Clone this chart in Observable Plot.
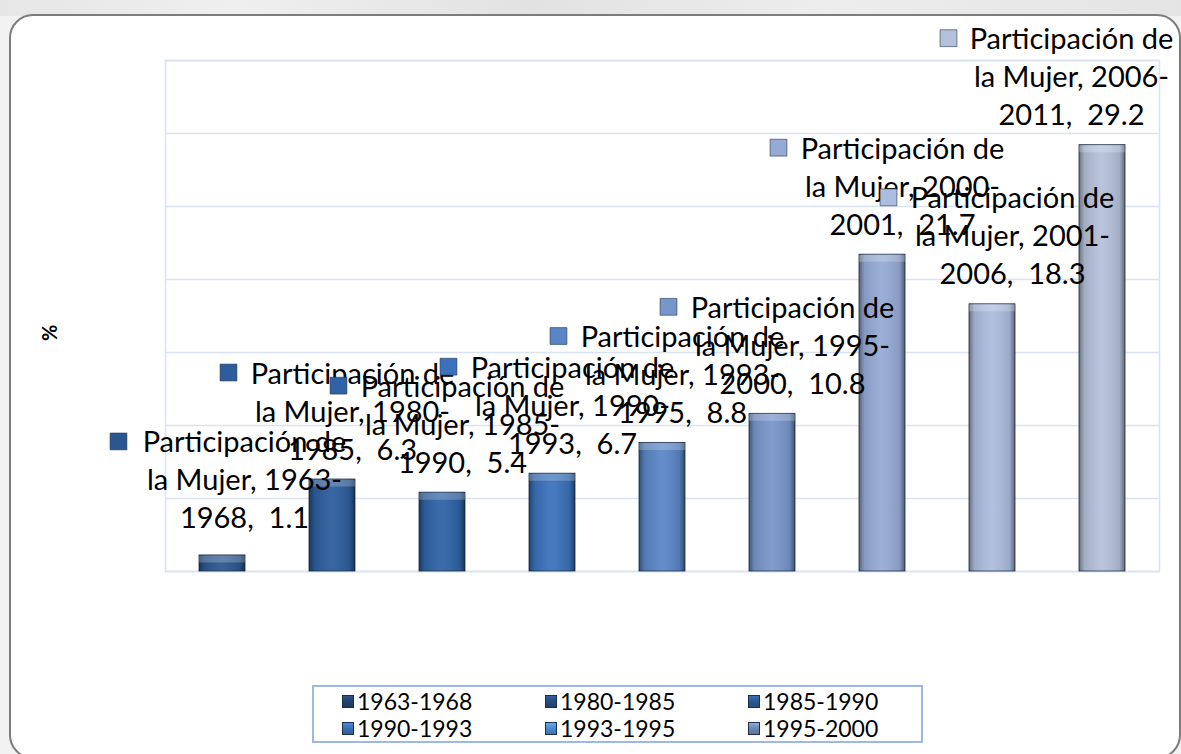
<!DOCTYPE html>
<html>
<head>
<meta charset="utf-8">
<script src="https://cdn.jsdelivr.net/npm/d3@7"></script>
<script src="https://cdn.jsdelivr.net/npm/@observablehq/plot@0.6"></script>
<style>
  html, body { margin: 0; padding: 0; }
  body { width: 1181px; height: 754px; overflow: hidden; position: relative; background: #f2f2f2; font-family: Lato, "Open Sans", sans-serif; }
  #topband { position: absolute; left: 0; top: 0; width: 1181px; height: 16px;
    background: linear-gradient(90deg, #e6e6e6 0%, #efefef 20%, #e2e2e2 45%, #ededed 70%, #e4e4e4 100%); }
  #frame { position: absolute; left: 9px; top: 14px; width: 1172px; height: 745px; box-sizing: border-box;
    border: 2px solid #7c7c7c; border-radius: 24px; background: #ffffff; }
  #chart { position: absolute; left: 0; top: 0; }
  #legend { position: absolute; left: 312px; top: 685px; width: 611px; height: 58px; box-sizing: border-box;
    border: 2px solid #9db8e2; background: #fff; }
  .li { position: absolute; height: 26px; display: flex; align-items: center; font-size: 23px; color: #000; white-space: nowrap; }
  .sw { width: 12px; height: 13px; margin-right: 3px; box-sizing: border-box; border: 1px solid #1b2e4a; }
</style>
</head>
<body>
<div id="topband"></div>
<div id="frame"></div>
<svg width="0" height="0" style="position:absolute">
  <defs>
    <linearGradient id="bevel" x1="0" y1="0" x2="1" y2="0">
      <stop offset="0" stop-color="#000" stop-opacity="0.4"/>
      <stop offset="0.12" stop-color="#000" stop-opacity="0.1"/>
      <stop offset="0.5" stop-color="#fff" stop-opacity="0.06"/>
      <stop offset="0.88" stop-color="#000" stop-opacity="0.1"/>
      <stop offset="1" stop-color="#000" stop-opacity="0.45"/>
    </linearGradient>
  </defs>
</svg>
<div id="chart"></div>
<div id="legend"></div>
<script>
// ---- data ----
const categories = ["1963-1968","1980-1985","1985-1990","1990-1993","1993-1995","1995-2000","2000-2001","2001-2006","2006-2011"];
const values = [1.1, 6.3, 5.4, 6.7, 8.8, 10.8, 21.7, 18.3, 29.2];
const barColors = ["#2b5791","#2d5d9c","#2f63a5","#3a71ba","#5a86c6","#7796ca","#95aad5","#adbddf","#b5c1da"];
const legendColors = ["#23426f","#274d80","#2c5a95","#3a70b8","#4f8ad0","#7089b6"];
const yTicks = [0, 5, 10, 15, 20, 25, 30, 35];
const yLabel = "%";
const legendItems = categories.slice(0, 6);

const data = categories.map((c, i) => {
  const [a, b] = c.split("-");
  return { period: c, value: values[i],
    label: `Participación de\nla Mujer, ${a}-\n${b},  ${values[i].toFixed(1)}` };
});
const first = data[0];
const last = data[data.length - 1];
const inner = data.filter(d => d !== last && d !== first);

const textOpts = { x: "period", y: "value", text: "label", lineAnchor: "bottom", textAnchor: "middle",
  fontSize: 29, lineHeight: 1.31, fill: "#000" };
const keyOpts = { x: "period", y: "value", symbol: "square", r: 9.5, fill: "period", stroke: "#26364f", strokeWidth: 0.6 };

const chart = Plot.plot({
  width: 1181, height: 600,
  marginLeft: 165, marginRight: 22, marginTop: 60, marginBottom: 29,
  x: { domain: categories, paddingInner: 0.58, paddingOuter: 0.29, axis: null },
  y: { domain: [0, 35], axis: null },
  color: { domain: categories, range: barColors },
  style: { background: "transparent", fontFamily: "Lato, 'Open Sans', sans-serif", overflow: "visible" },
  marks: [
    Plot.ruleY(yTicks, { stroke: "#dae4f1", strokeWidth: 1.6 }),
    Plot.frame({ stroke: "#dae4f1", strokeWidth: 1.6 }),
    Plot.barY(data, { x: "period", y: "value", fill: "period", stroke: "#1d2f4c", strokeWidth: 0.8 }),
    Plot.barY(data, { x: "period", y: "value", fill: "url(#bevel)" }),
    Plot.tickY(data, { x: "period", y: "value", stroke: "#ffffff", strokeOpacity: 0.22, strokeWidth: 7, dy: 3.5 }),
    Plot.text([yLabel], { frameAnchor: "left", dx: -115, dy: 25, rotate: -90, fontWeight: "bold", fontSize: 20, fill: "#000" }),
    Plot.text([first], { ...textOpts, dx: 22, dy: -27 }),
    Plot.dot([first], { ...keyOpts, dx: -104, dy: -114 }),
    Plot.text(inner, { ...textOpts, dx: 20, dy: -20 }),
    Plot.dot(inner, { ...keyOpts, dx: -104, dy: -107 }),
    Plot.text([last], { ...textOpts, dx: -31, dy: -20 }),
    Plot.dot([last], { ...keyOpts, dx: -154, dy: -107 })
  ]
});
document.getElementById("chart").appendChild(chart);

// ---- legend ----
const legend = d3.select("#legend");
legendItems.forEach((c, i) => {
  const col = i % 3, row = Math.floor(i / 3);
  const item = legend.append("div").attr("class", "li")
    .style("left", `${28 + col * 203}px`).style("top", `${1 + row * 27}px`);
  item.append("div").attr("class", "sw")
    .style("background", `linear-gradient(180deg, ${d3.color(legendColors[i]).brighter(0.6)} 0%, ${legendColors[i]} 45%, ${d3.color(legendColors[i]).darker(0.5)} 100%)`);
  item.append("span").text(c);
});
</script>
</body>
</html>
